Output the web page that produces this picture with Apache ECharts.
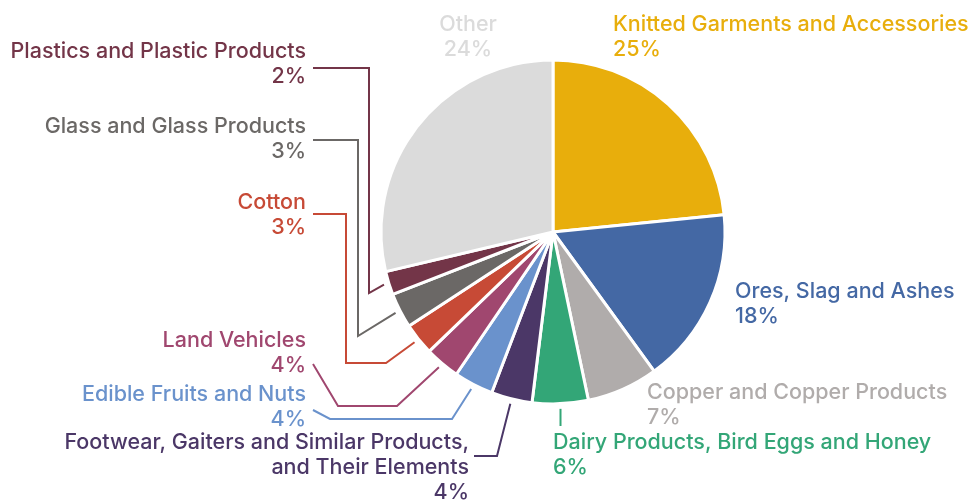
<!DOCTYPE html>
<html>
<head>
<meta charset="utf-8">
<script src="https://cdn.jsdelivr.net/npm/echarts@6/dist/echarts.min.js"></script>
<style>
html, body { margin: 0; padding: 0; background: #fff; }
#main { width: 969px; height: 503px; }
</style>
</head>
<body>
<div id="main"></div>
<script type="text/javascript">
// categories, clockwise from 12 o'clock
var categories = [
    'Knitted Garments and Accessories',
    'Ores, Slag and Ashes',
    'Copper and Copper Products',
    'Dairy Products, Bird Eggs and Honey',
    'Footwear, Gaiters and Similar Products,\nand Their Elements',
    'Edible Fruits and Nuts',
    'Land Vehicles',
    'Cotton',
    'Glass and Glass Products',
    'Plastics and Plastic Products',
    'Other'
];
// slice sizes as drawn
var sliceShare = [23.4, 16.6, 6.7, 5.25, 3.85, 3.7, 3.3, 3.0, 3.3, 2.2, 28.7];
// percentages printed on the labels
var shareLabel = [25, 18, 7, 6, 4, 4, 4, 3, 3, 2, 24];

var colors = ['#e8ae0c', '#4468a4', '#b0acab', '#33a677', '#4b3767', '#6a92cc',
              '#a0476f', '#c74a36', '#6b6866', '#733548', '#dbdbdb'];

var LINE_H = 25;
// label anchor (x, centre of first line) and leader line bends
// (null x = keep the x of the previous point)
var labelPlace = [
    { x: 613, y: 25, align: 'left' },
    { x: 735, y: 292, align: 'left' },
    { x: 647, y: 393, align: 'left' },
    { x: 553, y: 443, align: 'left', via: [[null, 426]] },
    { x: 469, y: 443, align: 'right', via: [[497, 456], [474, 456]] },
    { x: 306, y: 395, align: 'right', via: [[452, 419], [330, 419], [313, 410]] },
    { x: 306, y: 341, align: 'right', via: [[397, 406], [338, 406], [313, 364]] },
    { x: 306, y: 203, align: 'right', via: [[386, 363], [346, 363], [346, 214], [313, 214]] },
    { x: 306, y: 127, align: 'right', via: [[358, 336], [358, 140], [313, 140]] },
    { x: 306, y: 52, align: 'right', via: [[369, 293], [369, 68], [313, 68]] },
    { x: 468, y: 25, align: 'center' }
];

var pieData = categories.map(function (name, i) {
    return {
        name: name,
        value: sliceShare[i],
        itemStyle: { color: colors[i] },
        label: { color: colors[i] },
        labelLine: { show: !!labelPlace[i].via }
    };
});

var chart = echarts.init(document.getElementById('main'));
chart.setOption({
    animation: false,
    series: [{
        type: 'pie',
        center: [553, 232],
        radius: 172,
        startAngle: 90,
        clockwise: true,
        avoidLabelOverlap: false,
        data: pieData,
        itemStyle: {
            borderColor: '#fff',
            borderWidth: 3
        },
        label: {
            show: true,
            position: 'outside',
            fontFamily: 'Inter',
            fontWeight: 500,
            fontSize: 21.5,
            lineHeight: LINE_H,
            formatter: function (p) {
                return p.name + '\n' + shareLabel[p.dataIndex] + '%';
            }
        },
        labelLine: {
            length: 10,
            length2: 10,
            smooth: false,
            lineStyle: { width: 2 }
        },
        labelLayout: function (p) {
            var L = labelPlace[p.dataIndex];
            var out = {
                x: L.x,
                y: L.y - LINE_H / 2,
                align: L.align,
                verticalAlign: 'top'
            };
            if (L.via && p.labelLinePoints) {
                // start a little outside the slice, along its middle
                var a = p.labelLinePoints[0], b = p.labelLinePoints[1];
                var dx = b[0] - a[0], dy = b[1] - a[1];
                var len = Math.sqrt(dx * dx + dy * dy) || 1;
                var pts = [[a[0] + dx / len * 5, a[1] + dy / len * 5]];
                L.via.forEach(function (v) {
                    var prev = pts[pts.length - 1];
                    pts.push([v[0] == null ? prev[0] : v[0], v[1] == null ? prev[1] : v[1]]);
                });
                out.labelLinePoints = pts;
            }
            return out;
        }
    }]
});
</script>
</body>
</html>
